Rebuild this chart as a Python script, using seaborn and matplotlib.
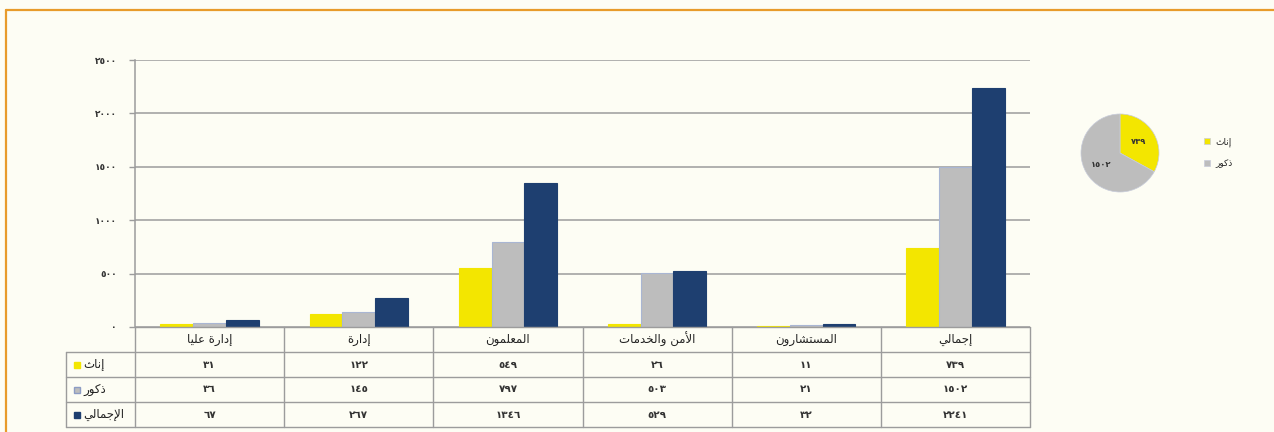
import matplotlib
matplotlib.use("Agg")
import matplotlib.pyplot as plt
import seaborn as sns
import pandas as pd
from matplotlib.lines import Line2D

# ---------------- data ----------------
categories = ["إدارة عليا", "إدارة", "المعلمون", "الأمن والخدمات", "المستشارون", "إجمالي"]
series_names = ["إناث", "ذكور", "الإجمالي"]
females = [31, 122, 549, 26, 11, 739]
males = [36, 145, 797, 503, 21, 1502]
totals = [67, 267, 1346, 529, 32, 2241]
y_ticks = [0, 500, 1000, 1500, 2000, 2500]
pie_values = [739, 1502]
pie_labels = ["إناث", "ذكور"]

# ---------------- simple Arabic shaping ----------------
AR = {
    '\u0622': ('\uFE81', '\uFE82'), '\u0623': ('\uFE83', '\uFE84'),
    '\u0625': ('\uFE87', '\uFE88'), '\u0627': ('\uFE8D', '\uFE8E'),
    '\u0628': ('\uFE8F', '\uFE90', '\uFE91', '\uFE92'), '\u0629': ('\uFE93', '\uFE94'),
    '\u062A': ('\uFE95', '\uFE96', '\uFE97', '\uFE98'), '\u062B': ('\uFE99', '\uFE9A', '\uFE9B', '\uFE9C'),
    '\u062C': ('\uFE9D', '\uFE9E', '\uFE9F', '\uFEA0'), '\u062D': ('\uFEA1', '\uFEA2', '\uFEA3', '\uFEA4'),
    '\u062E': ('\uFEA5', '\uFEA6', '\uFEA7', '\uFEA8'), '\u062F': ('\uFEA9', '\uFEAA'),
    '\u0630': ('\uFEAB', '\uFEAC'), '\u0631': ('\uFEAD', '\uFEAE'), '\u0632': ('\uFEAF', '\uFEB0'),
    '\u0633': ('\uFEB1', '\uFEB2', '\uFEB3', '\uFEB4'), '\u0634': ('\uFEB5', '\uFEB6', '\uFEB7', '\uFEB8'),
    '\u0639': ('\uFEC9', '\uFECA', '\uFECB', '\uFECC'), '\u0643': ('\uFED9', '\uFEDA', '\uFEDB', '\uFEDC'),
    '\u0644': ('\uFEDD', '\uFEDE', '\uFEDF', '\uFEE0'), '\u0645': ('\uFEE1', '\uFEE2', '\uFEE3', '\uFEE4'),
    '\u0646': ('\uFEE5', '\uFEE6', '\uFEE7', '\uFEE8'), '\u0647': ('\uFEE9', '\uFEEA', '\uFEEB', '\uFEEC'),
    '\u0648': ('\uFEED', '\uFEEE'), '\u064A': ('\uFEF1', '\uFEF2', '\uFEF3', '\uFEF4'),
}
LAM_ALEF = {'\u0622': ('\uFEF5', '\uFEF6'), '\u0623': ('\uFEF7', '\uFEF8'),
            '\u0625': ('\uFEF9', '\uFEFA'), '\u0627': ('\uFEFB', '\uFEFC')}


def shape(s):
    toks, i = [], 0
    while i < len(s):
        c = s[i]
        if c == '\u0644' and i + 1 < len(s) and s[i + 1] in LAM_ALEF:
            toks.append(LAM_ALEF[s[i + 1]])
            i += 2
        else:
            toks.append(AR.get(c, c))
            i += 1
    out = []
    for j, t in enumerate(toks):
        if isinstance(t, str):
            out.append(t)
            continue
        prev = toks[j - 1] if j > 0 else None
        nxt = toks[j + 1] if j + 1 < len(toks) else None
        jp = isinstance(prev, tuple) and len(prev) == 4
        jn = len(t) == 4 and isinstance(nxt, tuple)
        if jp and jn:
            f = t[3]
        elif jp:
            f = t[1]
        elif jn:
            f = t[2]
        else:
            f = t[0]
        out.append(f)
    return ''.join(reversed(out))


def ar_num(n):
    return ''.join(chr(0x0660 + int(d)) for d in str(int(n)))


# ---------------- style ----------------
BG = '#FDFDF4'
YELLOW = '#F3E600'
GREY = '#BDBDBD'
NAVY = '#1E3F70'
LINE = '#9C9C9C'
ORANGE = '#E89B2A'

sns.set_style("white")
plt.rcParams['font.family'] = ['DejaVu Sans']
plt.rcParams['figure.facecolor'] = BG
plt.rcParams['axes.facecolor'] = BG

fig = plt.figure(figsize=(12.74, 4.32), dpi=100)
W, H = 1274, 432

# orange frame (top and left edges visible)
fig.lines.append(Line2D([6 / W, 1.0], [1 - 10 / H, 1 - 10 / H], transform=fig.transFigure,
                        color=ORANGE, linewidth=1.6))
fig.lines.append(Line2D([6 / W, 6 / W], [0.0, 1 - 10 / H], transform=fig.transFigure,
                        color=ORANGE, linewidth=1.6))

ax = fig.add_axes([135 / W, 1 - 327 / H, (1030 - 135) / W, (327 - 60) / H])

rows = []
for name, vals in zip(series_names, [females, males, totals]):
    for c, v in zip(categories, vals):
        rows.append({'cat': c, 'series': name, 'val': v})
df = pd.DataFrame(rows)

sns.barplot(data=df, x='cat', y='val', hue='series', order=categories, hue_order=series_names,
            palette=[YELLOW, GREY, NAVY], width=0.66, ax=ax, legend=False, saturation=1)
edge_cols = [YELLOW, '#A9B6D3', NAVY]
for cont, ec in zip(ax.containers, edge_cols):
    for p in cont:
        p.set_edgecolor(ec)
        p.set_linewidth(0.8)
        p.set_zorder(3)

ax.set_xlim(-0.5, len(categories) - 0.5)
ax.set_ylim(0, 2500)
ax.set_yticks(y_ticks)
ax.set_yticklabels([ar_num(v) for v in y_ticks], fontsize=6.5, fontweight='bold', color='#333333')
ax.yaxis.grid(True, color=LINE, linewidth=1.1, zorder=0)
ax.set_axisbelow(True)
ax.set_xticks([])
ax.set_xlabel('')
ax.set_ylabel('')
for s in ['top', 'right', 'bottom']:
    ax.spines[s].set_visible(False)
ax.spines['left'].set_color(LINE)
ax.spines['left'].set_linewidth(1.1)
ax.tick_params(axis='y', length=4, color=LINE, width=1, pad=9, left=True)

# ---------------- data table ----------------
tr = ax.get_xaxis_transform()
ax_h = 327 - 60
row_px = [327, 352, 377, 402, 427]
row_y = [(327 - p) / ax_h for p in row_px]
px_per_cat = (1030 - 135) / len(categories)
x_left = -0.5 - (135 - 66) / px_per_cat
x_right = len(categories) - 0.5
kw = dict(transform=tr, clip_on=False, color=LINE, linewidth=1.0, zorder=4)
ax.plot([-0.5, x_right], [row_y[0], row_y[0]], **kw)
for y in row_y[1:]:
    ax.plot([x_left, x_right], [y, y], **kw)
for k in range(len(categories) + 1):
    ax.plot([-0.5 + k, -0.5 + k], [row_y[0], row_y[-1]], **kw)
ax.plot([x_left, x_left], [row_y[1], row_y[-1]], **kw)

for i, c in enumerate(categories):
    ax.text(i, (row_y[0] + row_y[1]) / 2, shape(c), transform=tr, ha='center', va='center',
            fontsize=8.5, color='#222222')
    for r, vals in enumerate([females, males, totals]):
        ax.text(i, (row_y[r + 1] + row_y[r + 2]) / 2, ar_num(vals[i]), transform=tr,
                ha='center', va='center', fontsize=7.5, fontweight='bold', color='#333333')

marker_x = -0.5 - (135 - 77) / px_per_cat
text_x = -0.5 - (135 - 83) / px_per_cat
m_face = [YELLOW, GREY, NAVY]
m_edge = [YELLOW, '#8C9CC4', NAVY]
for r, name in enumerate(series_names):
    yc = (row_y[r + 1] + row_y[r + 2]) / 2
    ax.plot([marker_x], [yc], marker='s', markersize=5, markerfacecolor=m_face[r],
            markeredgecolor=m_edge[r], transform=tr, clip_on=False, zorder=5, linestyle='none')
    ax.text(text_x, yc, shape(name), transform=tr, ha='left', va='center',
            fontsize=8.5, color='#222222')

# ---------------- pie ----------------
pax = fig.add_axes([1081 / W, 1 - 192 / H, 78 / W, 78 / H])
pie_total = sum(pie_values)
wedges, _, autotexts = pax.pie(pie_values, colors=[YELLOW, GREY], startangle=90, counterclock=False,
                               radius=1.25,
                               autopct=lambda p: ar_num(round(p * pie_total / 100)), pctdistance=0.56,
                               wedgeprops=dict(edgecolor='#C8CCDA', linewidth=0.5),
                               textprops=dict(fontsize=6, fontweight='bold', color='#333333'))
pax.set_xlim(-1.25, 1.25)
pax.set_ylim(-1.25, 1.25)
pax.set_aspect('equal')
fig.legend(wedges, [shape(l) for l in pie_labels], loc='center left',
           bbox_to_anchor=(1196 / W, 1 - 153 / H), frameon=False, fontsize=6.5,
           handlelength=0.6, handleheight=0.6, handletextpad=0.6, labelspacing=1.4)

fig.savefig('out.png', dpi=100, facecolor=BG)
